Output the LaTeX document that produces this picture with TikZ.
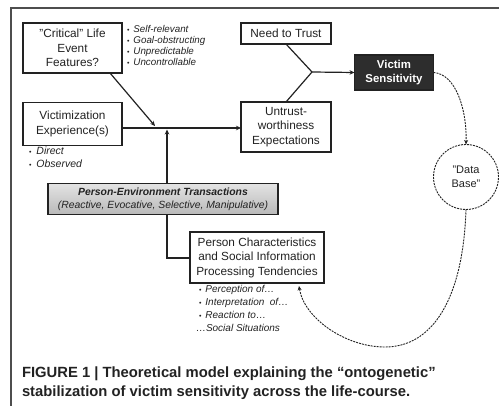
\documentclass[tikz,border=0pt]{standalone}
\usepackage{fontspec}
\setmainfont{Liberation Sans}
\usetikzlibrary{arrows.meta}
\definecolor{ink}{HTML}{222222}
\begin{document}
\begin{tikzpicture}[x=1pt,y=-1pt,
  every node/.style={inner sep=0pt,outer sep=0pt,text=ink},
  box/.style={draw=ink,line width=1.2pt,fill=white,align=center,
    font=\fontsize{11.8}{14.5}\selectfont},
  list/.style={align=left,anchor=north west,font=\fontsize{9.8}{11.3}\selectfont\itshape},
  arr/.style={draw=ink,line width=1.2pt,-{Stealth[length=5pt,width=4.5pt]}},
  link/.style={draw=ink,line width=1.2pt},
  dotline/.style={draw=ink,line width=0.9pt,dash pattern=on 2pt off 1pt},
  dotarr/.style={dotline,-{Stealth[length=4.5pt,width=4pt]}}]
\useasboundingbox (0,0) rectangle (499,406);
% frame
\draw[draw=ink!80,line width=1.2pt] (11,406) -- (11,8) -- (499,8);

% boxes
\node[box,minimum width=99pt,minimum height=50pt] (crit) at (72.5,48)
  {"Critical" Life\\Event\\Features?};
\node[box,minimum width=99pt,minimum height=43pt] (vexp) at (72.5,124)
  {Victimization\\Experience(s)};
\node[box,minimum width=90pt,minimum height=21pt] (need) at (286,33.5)
  {Need to Trust};
\node[box,minimum width=90pt,minimum height=50pt] (untrust) at (286,127)
  {Untrust-\\worthiness\\Expectations};
\node[box,draw=ink,fill=ink!95,text=white,minimum width=79pt,minimum height=35pt,
  font=\fontsize{11.4}{14.5}\selectfont\bfseries] (vs) at (394,72.5)
  {Victim\\Sensitivity};
\node[box,minimum width=134pt,minimum height=51pt] (pchar) at (257,257.5)
  {Person Characteristics\\and Social Information\\Processing Tendencies};
\node[draw=ink,line width=0.9pt,dash pattern=on 2pt off 1pt,circle,
  minimum size=65pt,align=center,font=\fontsize{11}{14}\selectfont] (db) at (466,177)
  {"Data\\Base"};

% bullet lists
\node[list] (critlist) at (127,25)
  {{\upshape\scriptsize•}\hspace{4pt}Self-relevant\\
   {\upshape\scriptsize•}\hspace{4pt}Goal-obstructing\\
   {\upshape\scriptsize•}\hspace{4pt}Unpredictable\\
   {\upshape\scriptsize•}\hspace{4pt}Uncontrollable};
\node[list,font=\fontsize{10.5}{13}\selectfont\itshape] (vexplist) at (29,147)
  {{\upshape\scriptsize•}\hspace{5pt}Direct\\
   {\upshape\scriptsize•}\hspace{5pt}Observed};
\node[list,font=\fontsize{10}{13}\selectfont\itshape] (pcharlist) at (196,285)
  {\hspace{3pt}{\upshape\scriptsize•}\hspace{4pt}Perception of…\\
   \hspace{3pt}{\upshape\scriptsize•}\hspace{4pt}Interpretation\ \ of…\\
   \hspace{3pt}{\upshape\scriptsize•}\hspace{4pt}Reaction to…\\
   …Social Situations};

% connectors
\coordinate (mainrow) at (0,128);
\coordinate (j1) at (155,126);
\coordinate (j2) at (312,72);
\coordinate (up) at (167,129.5);
\coordinate (bend) at (167,258);
\draw[arr] (vexp.east |- mainrow) -- (untrust.west |- mainrow);
\draw[arr] (110,73) -- (j1);
\draw[arr] (pchar.west |- bend) -- (bend) -- (up);
\draw[link] (need.south) -- (j2);
\draw[link] (untrust.north) -- (j2);
\draw[arr] (j2) -- (vs.west);

% transactions box, drawn over the vertical connector
\node[draw=ink,line width=1.2pt,top color=gray!22,bottom color=gray!55,
  minimum width=230pt,minimum height=31pt,align=center,
  font=\fontsize{10.4}{13}\selectfont\itshape] (pe) at (163,199)
  {\textbf{Person-Environment Transactions}\\(Reactive, Evocative, Selective, Manipulative)};

% feedback loop
\draw[dotarr] (vs.east) .. controls (456,74) and (467,110) .. (db.north);
\draw[dotarr] (db.south) .. controls (463,300) and (432,347) .. (385,347)
  .. controls (345,347) and (304,318) .. (299,286);

% caption (base anchor sits on the last line)
\node[anchor=base west,align=left,font=\fontsize{14.8}{19}\selectfont\bfseries] (cap) at (22,397)
  {FIGURE 1 | Theoretical model explaining the “ontogenetic”\\
   stabilization of victim sensitivity across the life-course.};
\end{tikzpicture}
\end{document}
